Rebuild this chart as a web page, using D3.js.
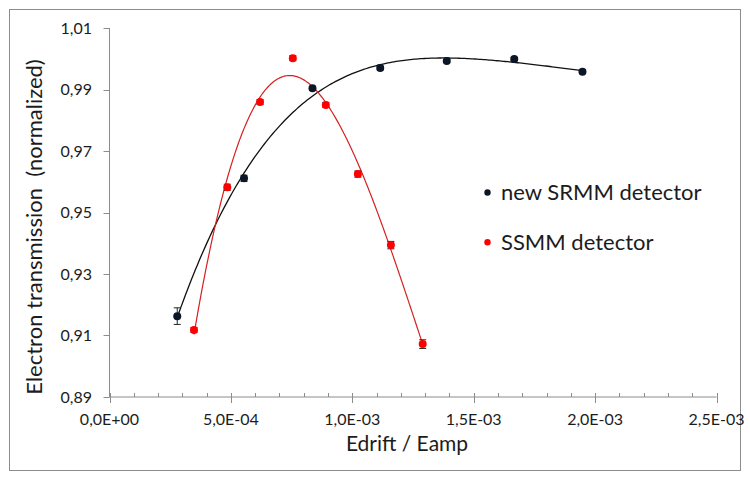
<!DOCTYPE html>
<html>
<head>
<meta charset="utf-8">
<script src="https://cdn.jsdelivr.net/npm/d3@7"></script>
<style>
  html, body { margin: 0; padding: 0; background: #fff; }
  svg { display: block; }
  text { font-family: Lato, "Open Sans", sans-serif; fill: #1c1c1c; }
</style>
</head>
<body>
<svg id="chart" width="750" height="480"></svg>
<script>
// ---- data ----
const srmmX   = [0.279e-3, 0.554e-3, 0.836e-3, 1.115e-3, 1.389e-3, 1.667e-3, 1.948e-3];
const srmmY   = [0.9163, 0.9611, 0.9904, 0.9970, 0.9993, 0.9999, 0.9958];
const srmmErr = [0.0027, 0.0010, 0.0006, 0.0006, 0.0005, 0.0005, 0.0005];

const ssmmX   = [0.348e-3, 0.485e-3, 0.620e-3, 0.755e-3, 0.891e-3, 1.023e-3, 1.159e-3, 1.290e-3];
const ssmmY   = [0.9118, 0.9582, 0.9859, 1.0002, 0.9850, 0.9625, 0.9394, 0.9072];
const ssmmErr = [0.0008, 0.0010, 0.0008, 0.0008, 0.0008, 0.0010, 0.0012, 0.0014];

const xTicks = [0, 0.5e-3, 1.0e-3, 1.5e-3, 2.0e-3, 2.5e-3];
const xTickLabels = ["0,0E+00", "5,0E-04", "1,0E-03", "1,5E-03", "2,0E-03", "2,5E-03"];
const yTicks = [0.89, 0.91, 0.93, 0.95, 0.97, 0.99, 1.01];
const yTickLabels = ["0,89", "0,91", "0,93", "0,95", "0,97", "0,99", "1,01"];

const seriesNames = ["new SRMM detector", "SSMM detector"];
const trendOrders = [4, 3];   // polynomial trendline orders
const xTitle = "Edrift / Eamp";
const yTitle = "Electron transmission  (normalized)";

// ---- layout ----
const svg = d3.select("#chart");
const x = d3.scaleLinear().domain([0, 2.5e-3]).range([109.5, 716.5]);
const y = d3.scaleLinear().domain([0.89, 1.01]).range([397, 28]);

const axisColor = "#8c8c8c";
const dotBlack = "#0b1726";
const red = "#ff0000";

// outer border
svg.append("rect").attr("x", 9.5).attr("y", 9.5).attr("width", 731).attr("height", 461)
  .attr("fill", "none").attr("stroke", "#8c8c8c").attr("stroke-width", 1);

// polynomial least squares fit (trendline)
function polyfit(xs, ys, order) {
  const n = order + 1;
  const A = Array.from({length: n}, () => new Array(n + 1).fill(0));
  xs.forEach((xv, k) => {
    const t = xv * 1000;
    for (let i = 0; i < n; i++) {
      for (let j = 0; j < n; j++) A[i][j] += Math.pow(t, i + j);
      A[i][n] += ys[k] * Math.pow(t, i);
    }
  });
  for (let c = 0; c < n; c++) {
    let p = c;
    for (let r = c + 1; r < n; r++) { if (Math.abs(A[r][c]) > Math.abs(A[p][c])) p = r; }
    const tmp = A[c]; A[c] = A[p]; A[p] = tmp;
    for (let r = 0; r < n; r++) {
      if (r === c) continue;
      const f = A[r][c] / A[c][c];
      for (let k = c; k <= n; k++) A[r][k] -= f * A[c][k];
    }
  }
  const coef = A.map((row, i) => row[n] / row[i]);
  return xv => { const t = xv * 1000; return coef.reduce((s, c, i) => s + c * Math.pow(t, i), 0); };
}

function trend(xs, ys, order, color, width) {
  const f = polyfit(xs, ys, order);
  const x0 = d3.min(xs), x1 = d3.max(xs);
  const pts = d3.range(0, 201).map(i => x0 + (x1 - x0) * i / 200);
  svg.append("path")
    .attr("d", d3.line().x(d => x(d)).y(d => y(f(d)))(pts))
    .attr("fill", "none").attr("stroke", color).attr("stroke-width", width);
}

// x axis
const gx = svg.append("g").attr("transform", `translate(0,${y(0.89)})`);
gx.append("line").attr("x1", x(0)).attr("x2", x(2.5e-3)).attr("stroke", axisColor);
const minorX = d3.range(0, 26).map(i => i * 1e-4).filter((v, i) => i % 5 !== 0);
gx.selectAll("line.minor").data(minorX).join("line").attr("class", "minor")
  .attr("x1", d => Math.round(x(d)) + 0.5).attr("x2", d => Math.round(x(d)) + 0.5)
  .attr("y1", -4).attr("y2", 0).attr("stroke", axisColor);
gx.selectAll("line.major").data(xTicks).join("line").attr("class", "major")
  .attr("x1", d => Math.round(x(d)) + 0.5).attr("x2", d => Math.round(x(d)) + 0.5)
  .attr("y1", -4).attr("y2", 6).attr("stroke", axisColor);
gx.selectAll("text").data(xTicks).join("text")
  .attr("x", d => x(d)).attr("y", 28).attr("text-anchor", "middle")
  .attr("font-size", 16).text((d, i) => xTickLabels[i]);

// y axis
const gy = svg.append("g");
gy.append("line").attr("x1", x(0)).attr("x2", x(0)).attr("y1", y(1.01)).attr("y2", y(0.89))
  .attr("stroke", axisColor);
gy.selectAll("line.major").data(yTicks).join("line").attr("class", "major")
  .attr("x1", x(0) - 6).attr("x2", x(0))
  .attr("y1", d => Math.round(y(d)) + 0.5).attr("y2", d => Math.round(y(d)) + 0.5)
  .attr("stroke", axisColor);
gy.selectAll("text").data(yTicks).join("text")
  .attr("x", 92).attr("y", d => y(d) + 5.5).attr("text-anchor", "end")
  .attr("font-size", 16).text((d, i) => yTickLabels[i]);

// titles
svg.append("text").attr("x", 407).attr("y", 451).attr("text-anchor", "middle")
  .attr("font-size", 21).text(xTitle);
svg.append("text").attr("transform", "translate(42,227) rotate(-90)")
  .attr("text-anchor", "middle").attr("font-size", 22)
  .style("white-space", "pre").text(yTitle);

// trendlines
trend(srmmX, srmmY, trendOrders[0], "#111", 1.3);
trend(ssmmX, ssmmY, trendOrders[1], "#d42020", 1.2);

// error bars + points
function points(xs, ys, errs, color) {
  const g = svg.append("g");
  const d = xs.map((v, i) => ({x: v, y: ys[i], e: errs[i]}));
  g.selectAll("line.eb").data(d).join("line").attr("class", "eb")
    .attr("x1", p => x(p.x)).attr("x2", p => x(p.x))
    .attr("y1", p => y(p.y + p.e)).attr("y2", p => y(p.y - p.e))
    .attr("stroke", "#222").attr("stroke-width", 1);
  [1, -1].forEach(s => {
    g.selectAll("line.cap" + (s > 0 ? "t" : "b")).data(d).join("line")
      .attr("class", "cap" + (s > 0 ? "t" : "b"))
      .attr("x1", p => x(p.x) - 3.5).attr("x2", p => x(p.x) + 3.5)
      .attr("y1", p => y(p.y + s * p.e)).attr("y2", p => y(p.y + s * p.e))
      .attr("stroke", "#222").attr("stroke-width", 1);
  });
  g.selectAll("circle").data(d).join("circle")
    .attr("cx", p => x(p.x)).attr("cy", p => y(p.y)).attr("r", 4)
    .attr("fill", color);
}
points(srmmX, srmmY, srmmErr, dotBlack);
points(ssmmX, ssmmY, ssmmErr, red);

// legend
const legend = svg.append("g");
[dotBlack, red].forEach((c, i) => {
  legend.append("circle").attr("cx", 487.5).attr("cy", 192.5 + i * 49.7).attr("r", 3.2).attr("fill", c);
  legend.append("text").attr("x", 501).attr("y", 192.5 + i * 49.7 + 7.5)
    .attr("font-size", 22).text(seriesNames[i]);
});
</script>
</body>
</html>
